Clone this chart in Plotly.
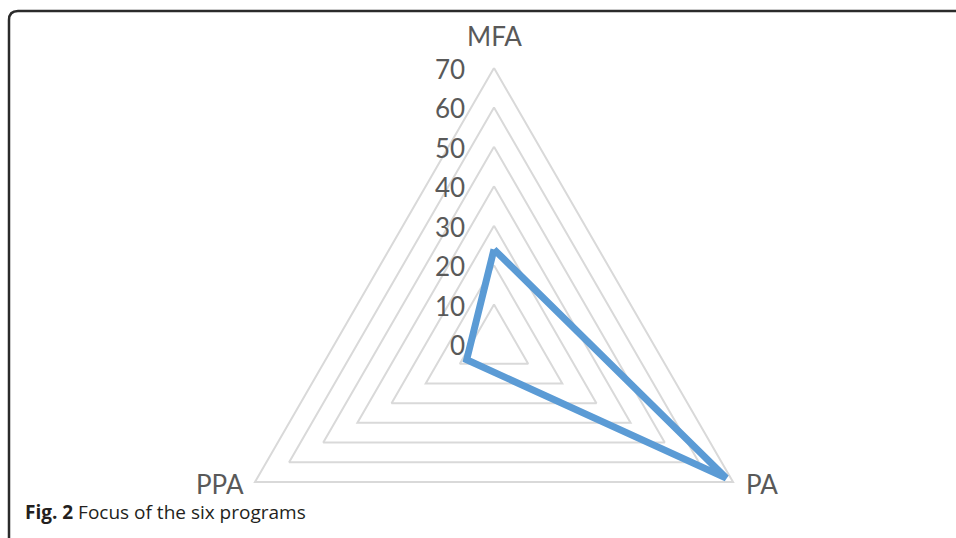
import math
import plotly.graph_objects as go

categories = ["MFA", "PA", "PPA"]
values = [24, 68, 8]
tick_vals = [0, 10, 20, 30, 40, 50, 60, 70]
tick_text = ["0", "10", "20", "30", "40", "50", "60", "70"]
r_max = 70
caption_bold = "Fig. 2"
caption_rest = " Focus of the six programs"

# ---- layout constants (pixels, figure space) ----
W, H = 956, 538
cx, cy = 494, 344            # centre of radar
R_PX = 276                   # pixel radius of r_max
s = R_PX / r_max             # px per unit

GRID = "#d9d9d9"
TXT = "#595959"
LINE = "#5b9bd5"

n = len(categories)
angles = [math.radians(90 - 360 * i / n) for i in range(n)]


def polar_xy(rs):
    xs = [r * math.cos(a) for r, a in zip(rs, angles)]
    ys = [r * math.sin(a) for r, a in zip(rs, angles)]
    return xs + xs[:1], ys + ys[:1]


fig = go.Figure()

# grid triangles
for v in tick_vals:
    if v == 0:
        continue
    gx, gy = polar_xy([v] * n)
    fig.add_trace(go.Scatter(x=gx, y=gy, mode="lines",
                             line=dict(color=GRID, width=2),
                             hoverinfo="skip", showlegend=False))

# data series
dx, dy = polar_xy(values)
fig.add_trace(go.Scatter(x=dx, y=dy, mode="lines",
                         line=dict(color=LINE, width=7),
                         showlegend=False, name="Focus"))

annotations = []
# radial tick labels
for v, t in zip(tick_vals, tick_text):
    annotations.append(dict(x=0, y=v, xref="x", yref="y", text=t,
                            showarrow=False, xanchor="right", yanchor="middle",
                            xshift=-27, yshift=-1,
                            font=dict(family="Lato", size=26, color=TXT)))

# category labels
lab_style = {
    0: dict(xanchor="center", yanchor="middle", xshift=0, yshift=32),
    1: dict(xanchor="left", yanchor="middle", xshift=11, yshift=-2),
    2: dict(xanchor="right", yanchor="middle", xshift=-9, yshift=-2),
}
for i, c in enumerate(categories):
    annotations.append(dict(x=r_max * math.cos(angles[i]), y=r_max * math.sin(angles[i]),
                            xref="x", yref="y", text=c, showarrow=False,
                            font=dict(family="Lato", size=26, color=TXT),
                            **lab_style[i]))

# caption
annotations.append(dict(xref="paper", yref="paper", x=23 / W, y=1 - 512 / H,
                        xanchor="left", yanchor="middle", showarrow=False,
                        text=f"<b>{caption_bold}</b>{caption_rest}",
                        font=dict(family="Open Sans", size=19, color="#231f20")))

fx0, fy0, rad = 9 / W, 1 - 11 / H, 9
frame_path = (f"M {fx0},-0.02 L {fx0},{fy0 - rad / H} "
              f"Q {fx0},{fy0} {fx0 + rad / W},{fy0} L 1.02,{fy0}")

fig.update_layout(
    width=W, height=H,
    margin=dict(l=0, r=0, t=0, b=0),
    paper_bgcolor="white",
    plot_bgcolor="white",
    xaxis=dict(range=[-cx / s, (W - cx) / s], visible=False, fixedrange=True),
    yaxis=dict(range=[(cy - H) / s, cy / s], visible=False, fixedrange=True),
    annotations=annotations,
    shapes=[dict(type="path", xref="paper", yref="paper", path=frame_path,
                 line=dict(color="#2b2b2b", width=2.5))],
)

fig.write_html("out.html",
               config={"displayModeBar": False},
               post_script="document.body.style.margin='0px';document.body.style.overflow='hidden';")
